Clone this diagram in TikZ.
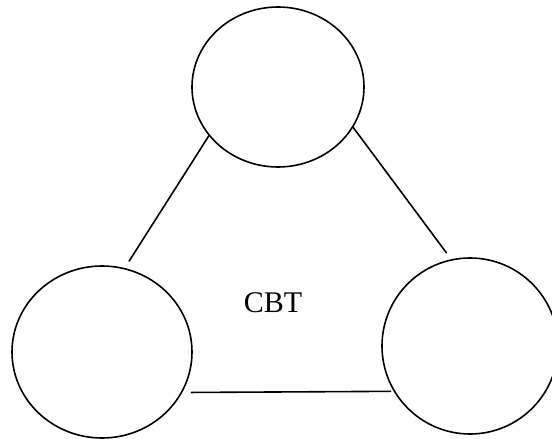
\documentclass[tikz,border=0pt]{standalone}
\usepackage{fontspec}
\setmainfont{Liberation Serif}
\usetikzlibrary{shapes.geometric}
\tikzset{
  bubble/.style={draw, ellipse, line width=0.8pt, inner sep=0pt, outer sep=0pt},
  link/.style={line width=0.8pt}
}

\begin{document}
\begin{tikzpicture}[line cap=round,line join=round,x=0.5pt,y=-0.5pt]
\useasboundingbox (0,0) rectangle (552,439);
\node [bubble, minimum width=86pt, minimum height=80pt] (top) at (278,87) {};
\node [bubble, minimum width=90pt, minimum height=86pt] (left) at (102,352) {};
\node [bubble, minimum width=88pt, minimum height=88pt] (right) at (470,346) {};
\node (cbt) at (273,303) {\fontsize{15}{18}\selectfont CBT};
\draw [link, shorten >=4.5pt] (top.215) -- (left.75);
\draw [link, shorten >=4.5pt] (top.332) -- (right.102);
\draw [link] ([xshift=5pt]left.333) -- ([xshift=-2pt]right.211.5);
%\draw [fill] (cbt) circle [radius = 1.2pt];
\end{tikzpicture}
\end{document}
